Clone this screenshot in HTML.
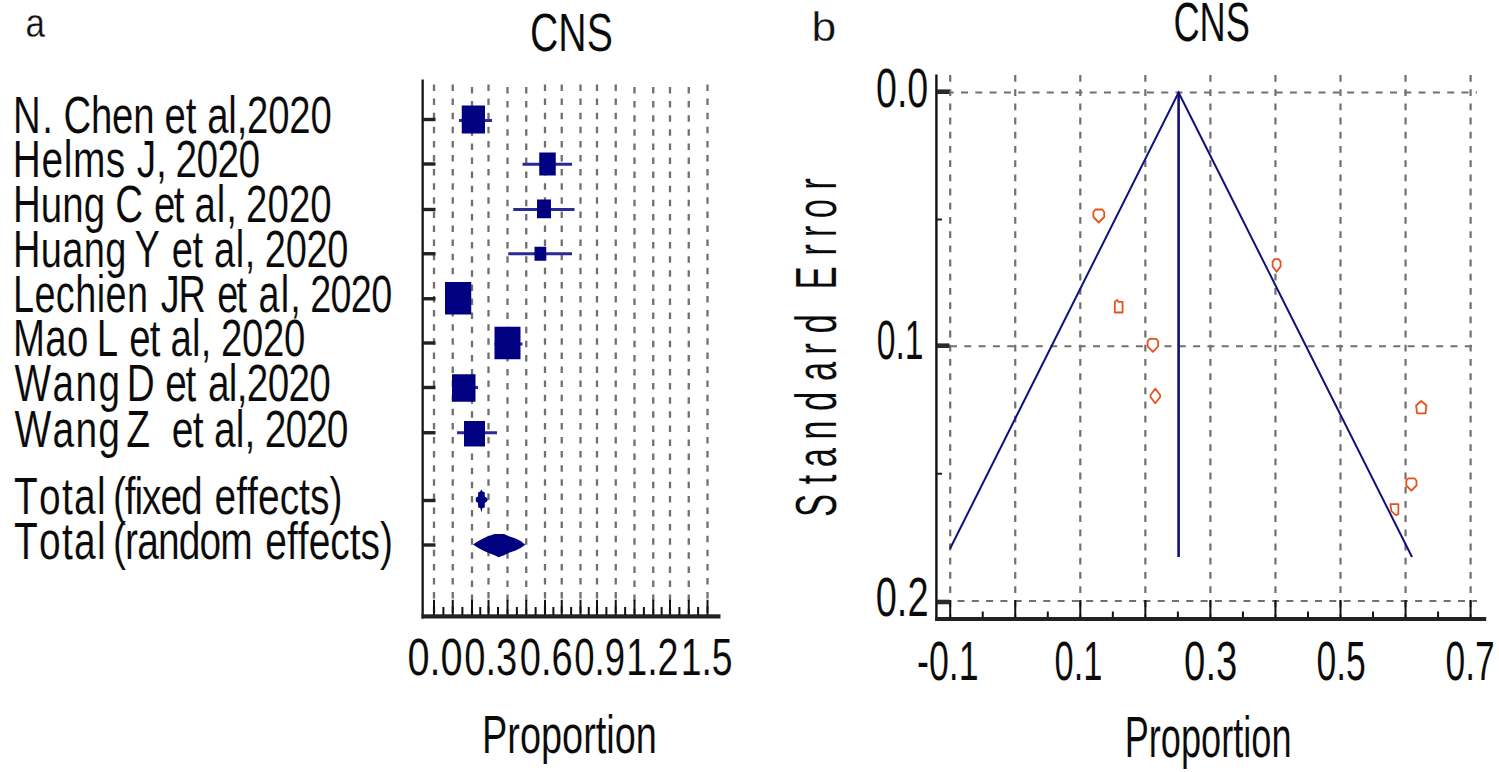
<!DOCTYPE html><html><head><meta charset="utf-8"><title>CNS forest and funnel plot</title>
<style>html,body{margin:0;padding:0;background:#fff}svg{display:block}text{font-family:"Liberation Sans",Arial,sans-serif;white-space:pre}</style></head><body>
<svg width="1499" height="772" viewBox="0 0 1499 772">
<rect width="1499" height="772" fill="#fff"/>
<g id="labelsA">
<text transform="translate(0 132.50) scale(0.7370 1)" x="17.6 57.5 74.4 86.1 123.4 152.1 180.8 209.4 223.2 252.0 266.3 281.1 309.8 321.1 335.3 363.9 392.6 421.3" font-size="52" fill="#0a0a0a" stroke="#fff" stroke-width="0.15" xml:space="preserve">N. Chen et al,2020</text>
<text transform="translate(0 177.00) scale(0.7477 1)" x="17.2 55.5 85.2 97.5 141.6 168.3 183.0 208.5 222.5 234.8 262.9 290.9 319.0" font-size="52" fill="#0a0a0a" stroke="#fff" stroke-width="0.15" xml:space="preserve">Helms J, 2020</text>
<text transform="translate(0 222.00) scale(0.7395 1)" x="17.5 55.2 84.3 113.4 142.5 155.9 193.4 208.3 234.8 246.9 263.0 293.0 305.8 321.4 332.7 361.7 390.7 419.6" font-size="52" fill="#0a0a0a" stroke="#fff" stroke-width="0.15" xml:space="preserve">Hung C et al, 2020</text>
<text transform="translate(0 267.00) scale(0.7317 1)" x="17.7 55.8 85.2 114.6 144.0 173.4 184.0 218.7 234.9 263.2 277.0 292.6 322.2 334.4 349.6 362.0 390.4 418.8 447.1" font-size="52" fill="#0a0a0a" stroke="#fff" stroke-width="0.15" xml:space="preserve">Huang Y et al, 2020</text>
<text transform="translate(0 312.00) scale(0.7272 1)" x="17.8 47.3 76.8 103.4 132.9 145.1 174.6 204.1 221.2 245.4 281.2 298.8 325.4 337.5 355.5 386.0 399.1 415.2 426.5 454.5 482.5 510.6" font-size="52" fill="#0a0a0a" stroke="#fff" stroke-width="0.15" xml:space="preserve">Lechien JR et al, 2020</text>
<text transform="translate(0 356.00) scale(0.7385 1)" x="17.5 61.2 90.6 119.9 131.0 159.9 175.0 202.7 215.9 230.8 260.0 271.7 286.3 299.1 327.6 356.1 384.5" font-size="52" fill="#0a0a0a" stroke="#fff" stroke-width="0.15" xml:space="preserve">Mao L et al, 2020</text>
<text transform="translate(0 401.30) scale(0.7445 1)" x="19.5 70.5 101.3 132.2 163.1 170.3 207.8 221.9 249.3 262.1 279.3 307.3 317.9 331.5 359.5 387.5 415.5" font-size="52" fill="#0a0a0a" stroke="#fff" stroke-width="0.15" xml:space="preserve">Wang D et al,2020</text>
<text transform="translate(0 446.70) scale(0.7495 1)" x="19.4 70.1 100.6 131.2 161.7 168.6 200.4 213.5 229.3 257.3 270.8 285.6 314.6 326.3 340.8 353.4 380.9 408.4 435.9" font-size="52" fill="#0a0a0a" stroke="#fff" stroke-width="0.15" xml:space="preserve">Wang Z  et al, 2020</text>
<text transform="translate(0 514.00) scale(0.7485 1)" x="18.6 52.1 82.7 98.9 129.6 142.9 150.9 166.7 179.7 189.8 214.3 241.7 269.1 286.5 315.5 330.0 344.6 373.6 399.6 414.2 440.2" font-size="52" fill="#0a0a0a" stroke="#fff" stroke-width="0.15" xml:space="preserve">Total (fixed effects)</text>
<text transform="translate(0 558.70) scale(0.7491 1)" x="18.6 52.1 82.7 98.8 129.5 142.7 150.8 167.0 183.1 210.9 238.6 266.4 294.1 336.3 354.1 383.0 397.5 412.0 440.9 466.9 481.4 507.4" font-size="52" fill="#0a0a0a" stroke="#fff" stroke-width="0.15" xml:space="preserve">Total (random effects)</text>
</g>
<text transform="translate(25.60 37.00) scale(0.8738 1)" font-size="40" fill="#111" stroke="#fff" stroke-width="0.3" xml:space="preserve" >a</text>
<text transform="translate(530.04 51.25) scale(0.7397 1)" font-size="53" fill="#0a0a0a" stroke="#fff" stroke-width="0.15" xml:space="preserve" >CNS</text>
<text transform="translate(481.97 752.50) scale(0.7155 1)" font-size="53" fill="#0a0a0a" stroke="#fff" stroke-width="0.15" xml:space="preserve" >Proportion</text>
<text transform="translate(407.41 674.50) scale(0.7634 1)" font-size="52" fill="#0a0a0a" stroke="#fff" stroke-width="0.15" xml:space="preserve" >0.0</text>
<text transform="translate(464.28 674.50) scale(0.7325 1)" font-size="52" fill="#0a0a0a" stroke="#fff" stroke-width="0.15" xml:space="preserve" >0.3</text>
<text transform="translate(519.78 674.50) scale(0.7325 1)" font-size="52" fill="#0a0a0a" stroke="#fff" stroke-width="0.15" xml:space="preserve" >0.6</text>
<text transform="translate(574.34 674.50) scale(0.7014 1)" font-size="52" fill="#0a0a0a" stroke="#fff" stroke-width="0.15" xml:space="preserve" >0.9</text>
<text transform="translate(626.17 674.50) scale(0.7251 1)" font-size="52" fill="#0a0a0a" stroke="#fff" stroke-width="0.15" xml:space="preserve" >1.2</text>
<text transform="translate(680.70 674.50) scale(0.7179 1)" font-size="52" fill="#0a0a0a" stroke="#fff" stroke-width="0.15" xml:space="preserve" >1.5</text>
<g stroke="#707070" stroke-width="2.3" stroke-dasharray="6.5 7.6">
<line x1="434.00" y1="84.5" x2="434.00" y2="614"/>
<line x1="452.75" y1="84.5" x2="452.75" y2="614"/>
<line x1="472.00" y1="87.0" x2="472.00" y2="614"/>
<line x1="488.50" y1="84.5" x2="488.50" y2="614"/>
<line x1="507.50" y1="87.0" x2="507.50" y2="614"/>
<line x1="526.25" y1="87.0" x2="526.25" y2="614"/>
<line x1="545.00" y1="84.5" x2="545.00" y2="614"/>
<line x1="561.75" y1="84.5" x2="561.75" y2="614"/>
<line x1="580.50" y1="84.5" x2="580.50" y2="614"/>
<line x1="597.00" y1="84.5" x2="597.00" y2="614"/>
<line x1="615.75" y1="84.5" x2="615.75" y2="614"/>
<line x1="634.50" y1="87.0" x2="634.50" y2="614"/>
<line x1="653.25" y1="87.0" x2="653.25" y2="614"/>
<line x1="670.00" y1="87.0" x2="670.00" y2="614"/>
<line x1="688.75" y1="87.0" x2="688.75" y2="614"/>
<line x1="707.50" y1="84.5" x2="707.50" y2="614"/>
</g>
<rect x="421.5" y="79.5" width="2.3" height="539" fill="#151515"/>
<rect x="421.5" y="614.3" width="299" height="4.2" fill="#222"/>
<g fill="#222">
<rect x="433.00" y="599.8" width="2" height="15" fill="#111"/>
<rect x="442.38" y="607" width="2" height="8" fill="#111"/>
<rect x="451.75" y="599.8" width="2" height="15" fill="#111"/>
<rect x="461.38" y="607" width="2" height="8" fill="#111"/>
<rect x="471.00" y="599.8" width="2" height="15" fill="#111"/>
<rect x="479.25" y="607" width="2" height="8" fill="#111"/>
<rect x="487.50" y="599.8" width="2" height="15" fill="#111"/>
<rect x="497.00" y="607" width="2" height="8" fill="#111"/>
<rect x="506.50" y="599.8" width="2" height="15" fill="#111"/>
<rect x="515.88" y="607" width="2" height="8" fill="#111"/>
<rect x="525.25" y="599.8" width="2" height="15" fill="#111"/>
<rect x="534.62" y="607" width="2" height="8" fill="#111"/>
<rect x="544.00" y="599.8" width="2" height="15" fill="#111"/>
<rect x="552.38" y="607" width="2" height="8" fill="#111"/>
<rect x="560.75" y="599.8" width="2" height="15" fill="#111"/>
<rect x="570.12" y="607" width="2" height="8" fill="#111"/>
<rect x="579.50" y="599.8" width="2" height="15" fill="#111"/>
<rect x="587.75" y="607" width="2" height="8" fill="#111"/>
<rect x="596.00" y="599.8" width="2" height="15" fill="#111"/>
<rect x="605.38" y="607" width="2" height="8" fill="#111"/>
<rect x="614.75" y="599.8" width="2" height="15" fill="#111"/>
<rect x="624.12" y="607" width="2" height="8" fill="#111"/>
<rect x="633.50" y="599.8" width="2" height="15" fill="#111"/>
<rect x="642.88" y="607" width="2" height="8" fill="#111"/>
<rect x="652.25" y="599.8" width="2" height="15" fill="#111"/>
<rect x="660.62" y="607" width="2" height="8" fill="#111"/>
<rect x="669.00" y="599.8" width="2" height="15" fill="#111"/>
<rect x="678.38" y="607" width="2" height="8" fill="#111"/>
<rect x="687.75" y="599.8" width="2" height="15" fill="#111"/>
<rect x="697.12" y="607" width="2" height="8" fill="#111"/>
<rect x="706.50" y="599.8" width="2" height="15" fill="#111"/>
<rect x="423" y="117.80" width="12.5" height="3.4"/>
<rect x="423" y="162.30" width="12.5" height="3.4"/>
<rect x="423" y="207.80" width="12.5" height="3.4"/>
<rect x="423" y="252.05" width="12.5" height="3.4"/>
<rect x="423" y="297.05" width="12.5" height="3.4"/>
<rect x="423" y="341.30" width="12.5" height="3.4"/>
<rect x="423" y="385.80" width="12.5" height="3.4"/>
<rect x="423" y="431.05" width="12.5" height="3.4"/>
<rect x="423" y="498.80" width="12.5" height="3.4"/>
<rect x="423" y="543.30" width="12.5" height="3.4"/>
</g>
<rect x="459" y="119.00" width="33" height="3" fill="#2a2a94"/>
<rect x="461.75" y="105.5" width="23.25" height="28.0" fill="#000080"/>
<rect x="522.5" y="162.75" width="49.5" height="3" fill="#2a2a94"/>
<rect x="539.25" y="152.5" width="16.5" height="23.0" fill="#000080"/>
<rect x="513.25" y="208.00" width="61.25" height="3" fill="#2a2a94"/>
<rect x="537" y="199.5" width="14" height="18.75" fill="#000080"/>
<rect x="508.25" y="252.25" width="63.75" height="3" fill="#2a2a94"/>
<rect x="534.5" y="246.75" width="11.75" height="14.0" fill="#000080"/>
<rect x="445" y="282" width="26.25" height="32.5" fill="#000080"/>
<rect x="494.5" y="342.50" width="28.0" height="3" fill="#2a2a94"/>
<rect x="494.5" y="326.75" width="26.0" height="32.5" fill="#000080"/>
<rect x="452" y="386.00" width="26" height="3" fill="#2a2a94"/>
<rect x="452" y="374.25" width="23.5" height="27.5" fill="#000080"/>
<rect x="457" y="431.25" width="40" height="3" fill="#2a2a94"/>
<rect x="464" y="421" width="21" height="25.5" fill="#000080"/>
<polygon points="481.4,489.4 482.6,491.6 484.8,492.6 484.8,496.6 487.5,498.6 487.5,501 484.8,503 484.8,507.5 482.5,508 481.4,512.6 480.3,508 478.1,507.5 478.1,503 475.8,501.5 475.8,497.5 478.1,496.6 478.1,492.6 480.2,491.6" fill="#000080"/>
<polygon points="473,544.5 478,541.2 483,538.4 488,536.2 494.6,534 504,534 509,536.2 515.6,538.4 521,541.2 525.3,544.8 521,547.8 515.6,550.6 509,552.8 504,555.2 498.5,557.2 494.6,555.2 488,552.8 483,550.6 478,547.8" fill="#000080"/>
<text transform="translate(811.61 41.25) scale(1.0840 1)" font-size="41" fill="#111" stroke="#fff" stroke-width="0.3" xml:space="preserve" >b</text>
<text transform="translate(1173.44 40.50) scale(0.6528 1)" font-size="55.5" fill="#0a0a0a" stroke="#fff" stroke-width="0.15" xml:space="preserve" >CNS</text>
<text transform="translate(875.99 107.00) scale(0.6782 1)" font-size="55.5" fill="#0a0a0a" stroke="#fff" stroke-width="0.15" xml:space="preserve" >0.0</text>
<text transform="translate(876.65 359.00) scale(0.6075 1)" font-size="55.5" fill="#0a0a0a" stroke="#fff" stroke-width="0.15" xml:space="preserve" >0.1</text>
<text transform="translate(875.68 615.70) scale(0.6861 1)" font-size="55.5" fill="#0a0a0a" stroke="#fff" stroke-width="0.15" xml:space="preserve" >0.2</text>
<text transform="translate(916.99 679.70) scale(0.6456 1)" font-size="55.5" fill="#0a0a0a" stroke="#fff" stroke-width="0.15" xml:space="preserve" >-0.1</text>
<text transform="translate(1054.62 679.70) scale(0.6213 1)" font-size="55.5" fill="#0a0a0a" stroke="#fff" stroke-width="0.15" xml:space="preserve" >0.1</text>
<text transform="translate(1184.07 679.70) scale(0.6905 1)" font-size="55.5" fill="#0a0a0a" stroke="#fff" stroke-width="0.15" xml:space="preserve" >0.3</text>
<text transform="translate(1316.38 679.70) scale(0.6409 1)" font-size="55.5" fill="#0a0a0a" stroke="#fff" stroke-width="0.15" xml:space="preserve" >0.5</text>
<text transform="translate(1445.58 679.70) scale(0.6376 1)" font-size="55.5" fill="#0a0a0a" stroke="#fff" stroke-width="0.15" xml:space="preserve" >0.7</text>
<text transform="translate(1124.71 757.00) scale(0.6346 1)" font-size="57" fill="#0a0a0a" stroke="#fff" stroke-width="0.15" xml:space="preserve" >Proportion</text>
<text transform="translate(836 516.5) rotate(-90) scale(0.61 1)" x="-0.7 52.7 80.8 126.0 172.8 222.2 265.0 300.1 346.7 372.2 427.5 458.0 488.8 535.8" font-size="57" fill="#0a0a0a" stroke="#fff" stroke-width="0.15">Standard Error</text>
<g stroke="#707070" stroke-width="2.2" stroke-dasharray="6.8 7.4">
<line x1="950.20" y1="75" x2="950.20" y2="617"/>
<line x1="1015.25" y1="75" x2="1015.25" y2="617"/>
<line x1="1080.30" y1="75" x2="1080.30" y2="617"/>
<line x1="1145.35" y1="75" x2="1145.35" y2="617"/>
<line x1="1210.40" y1="75" x2="1210.40" y2="617"/>
<line x1="1275.45" y1="75" x2="1275.45" y2="617"/>
<line x1="1340.50" y1="75" x2="1340.50" y2="617"/>
<line x1="1405.55" y1="75" x2="1405.55" y2="617"/>
<line x1="1470.60" y1="75" x2="1470.60" y2="617"/>
</g>
<g stroke="#707070" stroke-width="2.1" stroke-dasharray="7 7.3">
<line x1="950" y1="92.5" x2="1477" y2="92.5" stroke-dashoffset="3.3"/>
<line x1="950" y1="346.25" x2="1477" y2="346.25" stroke-dashoffset="0"/>
<line x1="950" y1="601" x2="1477" y2="601" stroke-dashoffset="6.8"/>
</g>
<rect x="935.2" y="74.5" width="2.4" height="546.5" fill="#111"/>
<rect x="935.2" y="617" width="551" height="4" fill="#222"/>
<g fill="#222">
<rect x="949.20" y="600" width="2" height="17.5" fill="#111"/>
<rect x="981.73" y="611.5" width="2" height="6" fill="#111"/>
<rect x="1014.25" y="600" width="2" height="17.5" fill="#111"/>
<rect x="1046.78" y="611.5" width="2" height="6" fill="#111"/>
<rect x="1079.30" y="600" width="2" height="17.5" fill="#111"/>
<rect x="1111.83" y="611.5" width="2" height="6" fill="#111"/>
<rect x="1144.35" y="600" width="2" height="17.5" fill="#111"/>
<rect x="1176.88" y="611.5" width="2" height="6" fill="#111"/>
<rect x="1209.40" y="600" width="2" height="17.5" fill="#111"/>
<rect x="1241.93" y="611.5" width="2" height="6" fill="#111"/>
<rect x="1274.45" y="600" width="2" height="17.5" fill="#111"/>
<rect x="1306.98" y="611.5" width="2" height="6" fill="#111"/>
<rect x="1339.50" y="600" width="2" height="17.5" fill="#111"/>
<rect x="1372.03" y="611.5" width="2" height="6" fill="#111"/>
<rect x="1404.55" y="600" width="2" height="17.5" fill="#111"/>
<rect x="1437.08" y="611.5" width="2" height="6" fill="#111"/>
<rect x="1469.60" y="600" width="2" height="17.5" fill="#111"/>
<rect x="937" y="89.40" width="12.5" height="4.6" fill="#2a2a2a"/>
<rect x="937" y="343.40" width="12.5" height="4.6" fill="#2a2a2a"/>
<rect x="937" y="599.70" width="12.5" height="4.6" fill="#2a2a2a"/>
<rect x="937" y="218.50" width="5" height="2"/>
<rect x="937" y="472.75" width="5" height="2"/>
</g>
<g stroke="#10107c" fill="none">
<line x1="1178.6" y1="92.5" x2="1178.6" y2="557" stroke-width="2.6"/>
<polyline points="950,548.8 1178.6,92.5 1412,557" stroke-width="2"/>
</g>
<g stroke="#e8521a" stroke-width="1.8" fill="#fff" stroke-linejoin="round">
<polygon points="1095.4,209.5 1102.2,209.5 1104.2,212.0 1104.2,217.0 1098.8,222.5 1093.4,217.0 1093.4,212.0"/>
<polygon points="1114.8,301.9 1117.2,299.9 1118.4,301.9 1122.6,301.9 1122.6,312.5 1114.8,312.5"/>
<polygon points="1149.6,338.8 1156.2,338.8 1158.2,341.3 1158.2,346.3 1152.9,351.8 1147.6,346.3 1147.6,341.3"/>
<polygon points="1274.6,259.1 1278.6,259.1 1280.6,261.6 1280.6,266.4 1276.6,271.7 1272.6,266.4 1272.6,261.6"/>
<polygon points="1155.3,388.8 1160.1,395.0 1160.1,397.0 1155.3,403.2 1150.5,397.0 1150.5,395.0"/>
<polygon points="1421.3,401.0 1426.5,405.5 1425.5,413.4 1417.1,413.4 1416.1,405.5"/>
<polygon points="1408.3,478.3 1414.5,478.3 1416.5,480.8 1416.5,485.5 1411.4,490.7 1406.3,485.5 1406.3,480.8"/>
<polygon points="1390.4,504.1 1398.4,504.1 1398.4,514.1 1395.9,515.1 1391.4,511.1"/>
</g>
</svg></body></html>
